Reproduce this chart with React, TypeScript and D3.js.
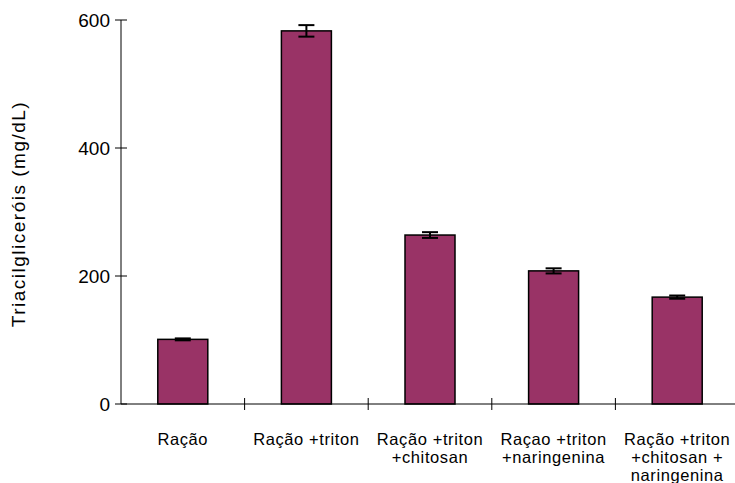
import React from "react";
import * as d3 from "d3";

const categories: string[][] = [
  ["Ração"],
  ["Ração +triton"],
  ["Ração +triton", "+chitosan"],
  ["Raçao +triton", "+naringenina"],
  ["Ração +triton", "+chitosan +", "naringenina"],
];
const values: number[] = [101, 583, 264, 208, 167];
const errors: number[] = [1.5, 9, 4.5, 4, 2.5];
const yTicks: number[] = [0, 200, 400, 600];
const yTitle = "Triacilgliceróis (mg/dL)";

export default function App() {
  const W = 735, H = 483;
  const x0 = 121, x1 = 739, y0 = 404, y1 = 20;
  const xb = d3.scaleBand<number>().domain(categories.map((_, i) => i)).range([x0, x1]);
  const y = d3.scaleLinear().domain([0, 600]).range([y0, y1]);
  const font = "Liberation Sans, Arial, sans-serif";
  const bw = 50;
  return (
    <svg width={W} height={H} style={{ position: "absolute", left: 0, top: 0, background: "#fff" }}>
      {values.map((v, i) => {
        const c = (xb(i) as number) + xb.bandwidth() / 2;
        return (
          <g key={i}>
            <rect x={c - bw / 2} y={y(v)} width={bw} height={y0 - y(v)} fill="#993366" stroke="#000" strokeWidth={1.5} />
            <line x1={c} x2={c} y1={y(v + errors[i])} y2={y(v - errors[i])} stroke="#000" strokeWidth={2} />
            <line x1={c - 8} x2={c + 8} y1={y(v + errors[i])} y2={y(v + errors[i])} stroke="#000" strokeWidth={2} />
            <line x1={c - 8} x2={c + 8} y1={y(v - errors[i])} y2={y(v - errors[i])} stroke="#000" strokeWidth={2} />
          </g>
        );
      })}
      <line x1={x0} x2={x0} y1={y1} y2={y0} stroke="#000" strokeWidth={1} />
      <line x1={x0} x2={W} y1={y0} y2={y0} stroke="#000" strokeWidth={1} />
      {yTicks.map((t) => (
        <g key={t}>
          <line x1={x0 - 6} x2={x0 + 6} y1={y(t)} y2={y(t)} stroke="#000" />
          <text x={x0 - 11} y={y(t)} dy="0.36em" textAnchor="end" fontFamily={font} fontSize={19} fill="#000">{t}</text>
        </g>
      ))}
      {categories.map((_, i) => (
        <line key={i} x1={(xb(i) as number) + xb.bandwidth()} x2={(xb(i) as number) + xb.bandwidth()} y1={y0 - 6} y2={y0 + 6} stroke="#000" />
      ))}
      {categories.map((lines, i) => {
        const c = (xb(i) as number) + xb.bandwidth() / 2;
        return (
          <text key={i} textAnchor="middle" fontFamily={font} fontSize={16.5} letterSpacing={0.6} fill="#000">
            {lines.map((l, j) => (
              <tspan key={j} x={c} y={445 + j * 18}>{l}</tspan>
            ))}
          </text>
        );
      })}
      <text transform={`translate(25,214) rotate(-90)`} textAnchor="middle" fontFamily={font} fontSize={19} letterSpacing={1.5} fill="#000">{yTitle}</text>
    </svg>
  );
}
